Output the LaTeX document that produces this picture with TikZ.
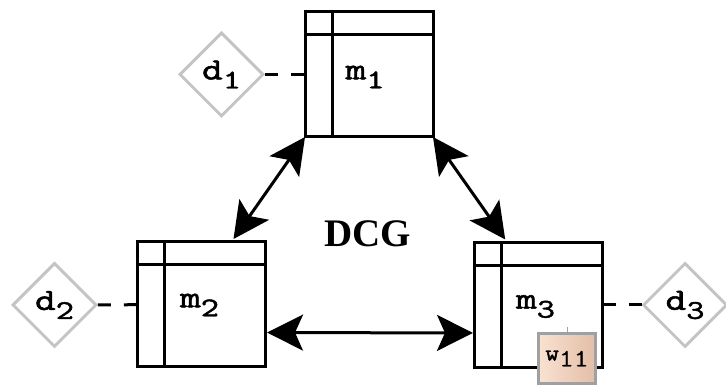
\documentclass[tikz,border=0pt]{standalone}
\usepackage{graphicx}
\usepackage{fontspec}
\usetikzlibrary{shapes.geometric,arrows.meta,calc}

\newfontfamily\dcgfont{Liberation Serif}
\newfontfamily\lblfont[FakeBold=1.6]{Latin Modern Mono}
\newfontfamily\wfont[FakeBold=0.6]{Latin Modern Mono}
\definecolor{dgray}{RGB}{196,196,196}
\definecolor{wgray}{RGB}{160,160,160}
\definecolor{peachl}{RGB}{249,226,210}
\definecolor{peachr}{RGB}{226,190,166}

\newcommand{\mlab}[2]{\scalebox{1.3}[1]{\lblfont\fontsize{31}{31}\selectfont #1\raisebox{-9pt}{\fontsize{27}{27}\selectfont #2}}}

\begin{document}
\begin{tikzpicture}[x=1pt,y=-1pt,
  model/.style={draw,line width=3pt,minimum width=128pt,minimum height=125pt,inner sep=0pt,outer sep=0pt},
  dnode/.style={diamond,draw=dgray,fill=white,line width=3pt,minimum width=84pt,minimum height=84pt,inner sep=0pt},
  link/.style={line width=3pt,dash pattern=on 13pt off 13pt},
  dbl/.style={line width=3pt,{Stealth[length=36pt,width=36pt,inset=8pt]}-{Stealth[length=36pt,width=36pt,inset=8pt]}}]

\useasboundingbox (0,0) rectangle (726,387);

\node[model] (m1) at (369,74.5) {};
\node[model] (m2) at (201.5,304.5) {};
\node[model] (m3) at (538.5,305) {};

\foreach \m in {m1,m2,m3}{
	\draw[line width=3pt] ([yshift=-23pt]\m.north west) -- ([yshift=-23pt]\m.north east);
	\draw[line width=3pt] ([xshift=27pt]\m.north west) -- ([xshift=27pt]\m.south west);}

\node (m1t) at ([xshift=60pt,yshift=-65pt]m1.north west) {\mlab{m}{1}};
\node (m2t) at ([xshift=62pt,yshift=-63pt]m2.north west) {\mlab{m}{2}};
\node (m3t) at ([xshift=61pt,yshift=-64pt]m3.north west) {\mlab{m}{3}};

\node[dnode] (d1) at (221.5,74.5) {\mlab{d}{1}};
\node[dnode] (d2) at (54.5,305) {\mlab{d}{2}};
\node[dnode] (d3) at (685,305) {\mlab{d}{3}};

\draw[link] (d1) -- (m1);
\draw[link] (d2) -- (m2);
\draw[link] (d3) -- (m3);

\draw[dbl] (m1.south west) -- ($(m2.north west)!0.75!(m2.north east)+(0,-3)$);
\draw[dbl] (m1.south east) -- ($(m3.north west)!0.24!(m3.north east)+(0,-3)$);
\draw[dbl] ([yshift=-28pt,xshift=1.5pt]m2.east) -- ([yshift=-28pt,xshift=-1.5pt]m3.west);

\node[font=\dcgfont\bfseries\fontsize{39}{39}\selectfont] (dcg) at (368,234) {DCG};

% weight block on m3
\node[draw=wgray,line width=3pt,left color=peachl,right color=peachr,minimum width=57pt,minimum height=50pt,inner sep=0pt] (w11) at (567,358.5)
	{\scalebox{1.15}[1]{\lblfont\fontsize{23}{23}\selectfont w\raisebox{-6pt}{\wfont\fontsize{25}{25}\selectfont 11}}};
\draw[wgray,line width=1pt] (w11.north) -- ++(0,-5);
\end{tikzpicture}
\end{document}
